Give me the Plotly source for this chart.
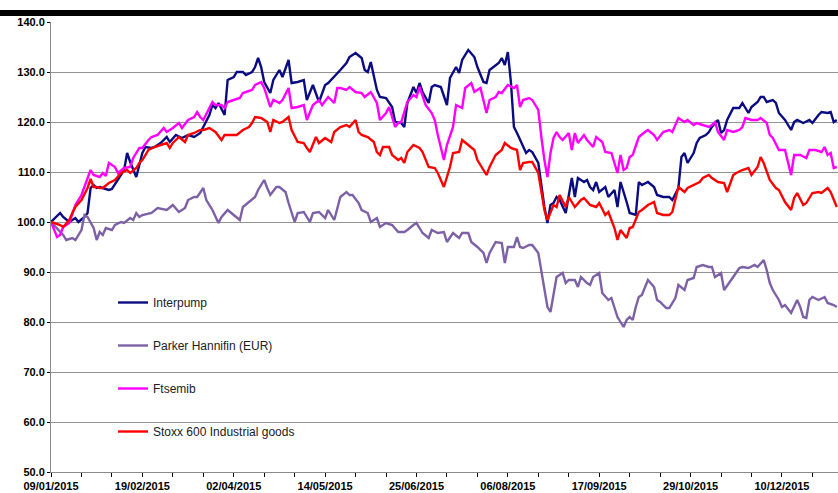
import plotly.graph_objects as go

# ---------------- data ----------------
tick_labels = ["09/01/2015", "19/02/2015", "02/04/2015", "14/05/2015", "25/06/2015",
               "06/08/2015", "17/09/2015", "29/10/2015", "10/12/2015"]
label_every = 30      # trading days between labels
minor_every = 10      # trading days between tick marks
last_day = 258.4

interpump_day = [0, 2, 3, 4, 6, 8, 9, 11, 12, 13, 14, 15, 16, 18, 19, 20, 22, 24, 25, 26, 28, 30, 31, 33, 34, 36, 38, 39, 41, 43, 45, 47, 49, 50, 52, 53, 54, 55, 57, 58, 60, 61, 63, 64, 66, 67, 68, 69, 70, 72, 73, 75, 76, 78, 79, 81, 83, 84, 86, 88, 90, 91, 93, 95, 97, 98, 100, 102, 103, 104, 105, 107, 108, 110, 112, 113, 115, 116, 117, 119, 120, 121, 122, 124, 125, 126, 128, 130, 131, 133, 134, 135, 137, 139, 140, 142, 143, 144, 147, 148, 149, 150, 151, 152, 153, 155, 156, 157, 158, 160, 162, 163, 164, 165, 166, 167, 169, 171, 172, 173, 175, 176, 177, 178, 179, 180, 182, 183, 185, 186, 187, 189, 190, 192, 193, 194, 196, 198, 199, 201, 203, 204, 206, 207, 208, 209, 211, 212, 213, 215, 216, 217, 219, 220, 221, 222, 224, 226, 227, 229, 230, 232, 233, 234, 235, 237, 238, 239, 241, 243, 244, 245, 247, 249, 250, 252, 253, 255, 256, 257, 258]
interpump_val = [100.0, 101.2, 101.8, 101.0, 100.0, 100.8, 100.0, 101.0, 101.8, 106.8, 107.4, 106.8, 107.0, 106.6, 106.4, 106.6, 108.4, 110.4, 113.8, 112.0, 109.0, 113.8, 115.0, 114.8, 115.0, 115.8, 117.0, 116.0, 117.4, 116.8, 117.4, 117.0, 117.8, 119.0, 121.4, 123.4, 122.8, 123.8, 121.4, 128.4, 129.0, 130.0, 130.0, 129.4, 130.0, 131.0, 132.8, 131.0, 128.0, 125.8, 128.4, 130.4, 129.0, 132.4, 127.8, 128.0, 128.4, 124.4, 127.4, 124.0, 127.4, 127.8, 129.0, 130.4, 131.8, 133.0, 133.8, 132.8, 130.4, 130.0, 132.0, 126.4, 125.0, 124.8, 123.0, 120.0, 119.8, 119.0, 123.8, 127.0, 125.8, 127.8, 126.0, 123.8, 127.0, 127.4, 127.0, 123.4, 128.8, 131.0, 129.8, 132.4, 134.4, 133.0, 131.0, 128.0, 127.8, 130.4, 131.8, 132.8, 131.4, 134.0, 128.0, 119.0, 117.8, 115.0, 113.8, 114.4, 114.0, 111.8, 103.0, 99.8, 103.4, 103.8, 105.0, 104.4, 101.8, 108.8, 105.0, 108.8, 108.0, 108.4, 107.0, 106.4, 108.0, 106.0, 107.0, 105.0, 106.4, 103.0, 108.0, 104.0, 101.8, 101.4, 108.0, 107.4, 108.0, 107.0, 105.4, 105.0, 105.0, 104.4, 106.8, 113.0, 113.8, 111.8, 113.8, 115.8, 116.8, 117.4, 118.0, 119.0, 120.4, 117.8, 118.4, 120.4, 122.8, 122.8, 123.8, 121.8, 123.0, 124.0, 125.0, 125.0, 124.0, 124.4, 123.8, 121.8, 120.4, 118.4, 120.0, 120.4, 119.8, 120.4, 119.8, 121.4, 122.0, 121.8, 122.0, 120.0, 120.4]

parker_day = [0, 2, 4, 5, 7, 8, 9, 10, 11, 12, 14, 15, 16, 17, 18, 20, 21, 23, 24, 26, 27, 28, 29, 30, 33, 35, 38, 40, 42, 44, 45, 47, 48, 50, 51, 53, 55, 56, 58, 60, 62, 63, 65, 67, 68, 70, 71, 72, 74, 75, 77, 78, 80, 81, 83, 85, 86, 88, 90, 91, 93, 95, 97, 98, 99, 101, 102, 104, 105, 107, 108, 110, 112, 114, 116, 117, 119, 120, 121, 122, 124, 125, 127, 129, 130, 132, 134, 135, 137, 138, 140, 142, 143, 144, 146, 148, 149, 150, 152, 153, 154, 155, 157, 158, 160, 161, 162, 163, 164, 165, 166, 168, 169, 170, 172, 173, 174, 176, 177, 178, 180, 181, 183, 184, 185, 186, 188, 189, 190, 191, 192, 193, 194, 195, 196, 198, 199, 200, 202, 203, 205, 206, 208, 209, 211, 212, 214, 216, 217, 218, 220, 221, 223, 224, 226, 227, 229, 231, 232, 234, 235, 236, 237, 239, 240, 241, 243, 245, 246, 247, 248, 249, 250, 252, 254, 255, 257, 258]
parker_val = [100.0, 98.8, 97.4, 96.4, 96.8, 96.4, 97.4, 98.4, 101.4, 101.0, 98.8, 96.4, 98.0, 97.4, 98.8, 98.4, 99.4, 100.0, 99.8, 100.8, 100.4, 101.8, 101.0, 101.4, 101.8, 102.8, 102.4, 103.4, 102.0, 102.8, 104.4, 105.0, 105.0, 106.8, 104.4, 102.4, 99.8, 101.0, 102.4, 101.4, 100.4, 103.0, 104.0, 105.0, 106.4, 108.4, 106.8, 105.4, 107.0, 107.0, 106.0, 103.8, 100.0, 101.8, 102.0, 100.0, 101.8, 102.0, 100.8, 102.4, 100.4, 105.0, 106.0, 105.4, 105.4, 103.8, 102.4, 101.8, 100.0, 100.8, 99.0, 99.8, 99.4, 98.0, 98.0, 98.4, 99.4, 99.8, 98.8, 97.8, 96.8, 98.4, 97.8, 98.0, 96.0, 97.8, 96.8, 97.8, 97.8, 96.0, 95.0, 93.8, 91.8, 93.8, 96.0, 95.8, 91.8, 95.0, 95.0, 97.0, 95.0, 94.8, 95.4, 95.4, 93.8, 90.4, 86.4, 83.0, 82.0, 85.8, 89.0, 89.8, 87.8, 88.4, 88.4, 87.0, 89.0, 87.8, 87.4, 89.0, 89.8, 85.8, 84.4, 84.8, 82.8, 81.0, 79.0, 80.4, 81.0, 80.4, 83.0, 85.0, 85.4, 87.0, 88.4, 87.0, 84.4, 84.0, 82.8, 82.8, 84.8, 87.4, 86.4, 88.4, 88.8, 91.0, 91.4, 91.0, 91.0, 89.0, 89.8, 86.4, 88.0, 89.0, 90.8, 91.0, 90.8, 91.4, 91.0, 92.4, 90.4, 87.8, 86.4, 84.4, 83.0, 83.4, 81.8, 84.4, 83.0, 81.0, 80.8, 84.4, 85.0, 84.4, 85.0, 83.8, 83.4, 83.0]

ftsemib_day = [0, 2, 3, 4, 6, 7, 8, 10, 12, 13, 14, 16, 17, 18, 19, 21, 22, 24, 26, 27, 29, 30, 32, 33, 35, 37, 38, 40, 42, 43, 45, 47, 48, 49, 50, 52, 53, 54, 56, 57, 58, 60, 62, 63, 66, 67, 69, 70, 72, 73, 75, 76, 78, 79, 81, 83, 84, 86, 88, 89, 91, 93, 94, 95, 97, 98, 100, 102, 103, 105, 107, 108, 110, 111, 113, 114, 115, 117, 119, 120, 121, 123, 125, 126, 127, 129, 130, 132, 133, 135, 136, 138, 139, 141, 143, 144, 146, 147, 148, 150, 152, 153, 154, 155, 157, 158, 160, 161, 162, 163, 164, 165, 166, 167, 168, 170, 171, 172, 173, 175, 176, 178, 179, 181, 182, 184, 185, 186, 187, 188, 189, 190, 191, 193, 195, 196, 198, 199, 201, 203, 204, 206, 208, 209, 211, 212, 214, 216, 217, 218, 219, 221, 222, 224, 226, 227, 228, 230, 232, 233, 235, 236, 237, 239, 241, 242, 243, 244, 246, 248, 249, 251, 253, 254, 255, 256, 257, 258]
ftsemib_val = [100.0, 97.0, 97.4, 99.0, 99.8, 101.4, 103.4, 105.4, 109.0, 110.4, 109.4, 109.0, 109.8, 109.2, 111.8, 111.0, 109.8, 110.8, 111.0, 112.8, 114.8, 114.8, 116.4, 117.0, 117.4, 118.8, 118.0, 118.8, 119.8, 118.8, 120.4, 121.0, 122.0, 121.0, 120.4, 122.8, 124.0, 123.4, 123.4, 122.8, 124.0, 124.4, 124.8, 125.8, 126.4, 127.4, 128.0, 126.8, 123.0, 124.4, 123.8, 124.4, 126.8, 122.8, 123.0, 123.4, 120.4, 123.4, 124.4, 123.4, 125.0, 123.8, 126.8, 126.8, 126.4, 127.0, 126.0, 125.8, 125.0, 126.0, 123.8, 120.4, 121.8, 123.0, 119.0, 119.8, 120.0, 124.0, 125.4, 125.0, 127.0, 123.4, 121.8, 120.4, 117.4, 112.4, 115.4, 119.0, 123.4, 122.8, 126.8, 127.8, 126.0, 126.8, 121.8, 124.4, 125.0, 126.0, 125.8, 127.4, 126.8, 127.4, 123.0, 124.4, 124.8, 124.4, 122.4, 117.0, 112.4, 109.0, 113.8, 116.8, 118.0, 117.0, 116.4, 117.8, 114.4, 117.8, 115.8, 117.4, 116.4, 115.0, 117.0, 116.0, 114.0, 113.8, 112.0, 109.8, 113.4, 110.4, 110.8, 113.0, 113.4, 117.0, 118.0, 118.4, 117.4, 116.4, 118.0, 118.4, 118.0, 120.8, 120.0, 120.4, 119.4, 119.8, 119.4, 119.0, 119.4, 120.0, 118.0, 116.4, 118.4, 118.0, 118.4, 119.0, 120.8, 120.4, 120.4, 120.8, 119.8, 117.4, 116.8, 114.4, 114.4, 111.8, 109.4, 113.4, 113.4, 112.8, 114.4, 114.4, 114.0, 115.0, 113.4, 113.8, 110.8, 111.0]

stoxx_day = [0, 3, 4, 6, 7, 8, 10, 12, 13, 14, 15, 16, 17, 19, 21, 22, 23, 25, 26, 28, 29, 30, 31, 32, 34, 36, 38, 39, 40, 42, 44, 45, 47, 49, 50, 52, 53, 54, 56, 57, 59, 61, 63, 65, 66, 67, 69, 71, 72, 73, 75, 76, 78, 79, 81, 83, 84, 85, 87, 88, 90, 92, 93, 95, 97, 98, 100, 101, 102, 104, 106, 107, 108, 109, 111, 112, 114, 115, 116, 117, 119, 121, 122, 124, 126, 127, 129, 131, 132, 134, 135, 137, 139, 140, 143, 144, 146, 148, 149, 151, 153, 154, 155, 157, 158, 160, 162, 163, 165, 166, 167, 169, 170, 172, 174, 175, 177, 179, 180, 182, 183, 185, 186, 187, 189, 190, 191, 193, 194, 196, 198, 199, 201, 203, 204, 206, 208, 209, 211, 213, 214, 216, 217, 219, 221, 222, 224, 225, 227, 229, 230, 232, 233, 234, 236, 238, 239, 241, 243, 244, 245, 247, 248, 250, 252, 253, 255, 256, 258]
stoxx_val = [100.0, 99.4, 99.0, 100.4, 101.8, 103.0, 104.4, 106.8, 108.6, 107.0, 107.0, 106.8, 106.8, 107.8, 108.4, 109.0, 109.8, 110.4, 109.8, 110.8, 111.8, 112.4, 113.4, 114.4, 115.0, 115.4, 115.8, 114.8, 115.8, 117.0, 116.0, 117.4, 117.8, 118.4, 118.4, 118.8, 118.4, 118.0, 116.4, 117.4, 117.4, 117.4, 118.4, 119.0, 119.8, 121.0, 120.8, 120.0, 118.0, 120.4, 119.8, 120.0, 121.0, 118.4, 116.0, 115.8, 114.8, 114.0, 117.0, 115.8, 116.8, 116.0, 118.0, 119.0, 119.4, 119.0, 120.4, 118.0, 117.4, 117.0, 116.0, 114.0, 113.4, 115.0, 115.0, 113.4, 112.4, 112.8, 111.8, 114.0, 115.4, 114.8, 114.0, 111.0, 110.8, 109.8, 107.0, 111.0, 113.8, 114.0, 116.4, 115.4, 114.4, 112.4, 109.4, 111.0, 113.4, 114.4, 115.8, 114.8, 114.4, 110.4, 111.8, 112.0, 112.0, 109.8, 102.4, 100.4, 103.4, 103.0, 105.4, 103.0, 105.0, 103.0, 104.4, 104.8, 103.4, 103.0, 103.8, 101.4, 102.0, 98.8, 96.4, 98.4, 96.8, 98.8, 99.0, 102.0, 102.4, 103.4, 104.0, 101.8, 101.4, 101.4, 102.0, 107.0, 106.0, 106.8, 107.4, 108.0, 108.8, 109.4, 108.8, 108.0, 107.8, 106.0, 109.4, 109.8, 110.4, 110.8, 109.4, 111.0, 113.0, 111.8, 108.4, 106.8, 106.4, 104.0, 102.4, 104.8, 105.8, 103.4, 103.8, 105.8, 106.0, 105.8, 106.8, 106.0, 103.0]

series_names = ["Interpump", "Parker Hannifin (EUR)", "Ftsemib", "Stoxx 600 Industrial goods"]
series_colors = ["#0B0B82", "#7D61A6", "#FF00FF", "#FF0000"]
series_days = [interpump_day, parker_day, ftsemib_day, stoxx_day]
series_vals = [interpump_val, parker_val, ftsemib_val, stoxx_val]

# ---------------- figure ----------------
fig = go.Figure()
for name, color, d, v in zip(series_names, series_colors, series_days, series_vals):
    fig.add_trace(go.Scatter(x=d, y=v, mode="lines", name=name, legendgroup=name,
                             line=dict(color=color, width=2.4)))

tickvals = list(range(0, int(last_day) + 1, minor_every))
ticktext = [tick_labels[t // label_every] if t % label_every == 0 and t // label_every < len(tick_labels) else ""
            for t in tickvals]

W, H = 838, 493
ml, mr, mt, mb = 51, 0, 22, 21
pw, ph = W - ml - mr, H - mt - mb

tickfont = dict(family="Arial", size=11, color="#000000", weight="bold")

fig.update_layout(
    width=W, height=H,
    margin=dict(l=ml, r=mr, t=mt, b=mb, autoexpand=False),
    paper_bgcolor="white", plot_bgcolor="white",
    showlegend=True,
    legend=dict(x=(113 - ml) / pw, y=(472 - 288) / ph, xanchor="left", yanchor="top",
                bgcolor="rgba(0,0,0,0)", font=dict(family="Arial", size=12, color="#202020"),
                tracegroupgap=24, itemwidth=30, traceorder="grouped"),
    xaxis=dict(range=[0, last_day], tickmode="array", tickvals=tickvals, ticktext=ticktext,
               showgrid=False, zeroline=False, showline=True, linecolor="#8a8a8a", linewidth=1,
               ticks="outside", ticklen=4, tickcolor="#000000", tickwidth=1,
               tickfont=tickfont, tickangle=0, automargin=False),
    yaxis=dict(range=[50, 140], dtick=10, tick0=50, tickformat=".1f",
               showgrid=True, gridcolor="#939393", gridwidth=1, zeroline=False,
               showline=True, linecolor="#8a8a8a", linewidth=1,
               ticks="outside", ticklen=3, tickcolor="#000000", tickwidth=1,
               tickfont=tickfont, automargin=False),
)

# header bar above the chart
fig.add_shape(type="line", xref="paper", yref="paper",
              x0=-ml / pw, x1=1.0, y0=1 + (mt - 13) / ph, y1=1 + (mt - 13) / ph,
              line=dict(color="#000000", width=6))

fig.write_html("out.html", config={"displayModeBar": False},
               post_script="document.body.style.margin='0px';document.body.style.padding='0px';"
                           "document.body.style.overflow='hidden';")
